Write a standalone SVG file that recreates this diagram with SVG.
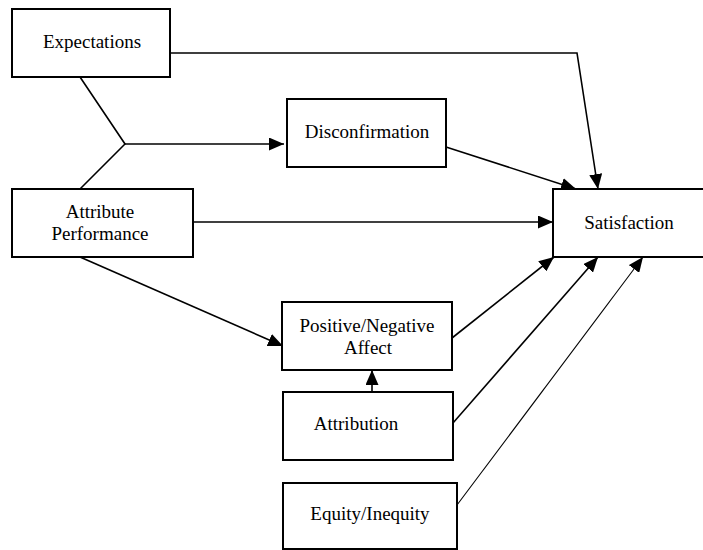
<svg xmlns="http://www.w3.org/2000/svg" width="703" height="550" viewBox="0 0 703 550">
<style>
.box{fill:#fff;stroke:#000;stroke-width:2}
.lbl{font-family:"Liberation Serif","Times New Roman",serif;font-size:19px;fill:#000;text-anchor:middle}
.ln{fill:none;stroke:#000;stroke-width:1.6}
.thin{fill:none;stroke:#000;stroke-width:1.1}
</style>
<defs>
<marker id="ah" markerUnits="userSpaceOnUse" markerWidth="15" markerHeight="13" refX="15" refY="6.5" orient="auto">
<path d="M0,0 L15,6.5 L0,13 z" fill="#000"/>
</marker>
</defs>
<rect x="0" y="0" width="703" height="550" fill="#fff"/>
<g id="connectors">
<polyline class="ln" points="170,53 577,53 598,189" marker-end="url(#ah)"/>
<polyline class="ln" points="80,77 125,144 80,189"/>
<line class="ln" x1="125" y1="144" x2="284" y2="144" marker-end="url(#ah)"/>
<line class="ln" x1="446" y1="147" x2="576" y2="189" marker-end="url(#ah)"/>
<line class="ln" x1="193" y1="222" x2="553" y2="222" marker-end="url(#ah)"/>
<line class="ln" x1="80" y1="257" x2="283" y2="346" marker-end="url(#ah)"/>
<line class="ln" x1="372" y1="392" x2="372" y2="370" marker-end="url(#ah)"/>
<line class="ln" x1="452" y1="338" x2="554" y2="257" marker-end="url(#ah)"/>
<line class="ln" x1="453" y1="423" x2="598" y2="257" marker-end="url(#ah)"/>
<line class="thin" x1="457" y1="505" x2="643" y2="257" marker-end="url(#ah)"/>
</g>
<g id="expectations">
<rect class="box" x="12" y="9" width="158" height="68"/>
<text class="lbl" x="92" y="48">Expectations</text>
</g>
<g id="disconfirmation">
<rect class="box" x="287" y="99" width="159" height="68"/>
<text class="lbl" x="367" y="138">Disconfirmation</text>
</g>
<g id="attribute-performance">
<rect class="box" x="12" y="189" width="181" height="68"/>
<text class="lbl" x="100" y="218">Attribute</text>
<text class="lbl" x="100" y="240">Performance</text>
</g>
<g id="satisfaction">
<rect class="box" x="553" y="189" width="160" height="68"/>
<text class="lbl" x="629" y="229">Satisfaction</text>
</g>
<g id="affect">
<rect class="box" x="282" y="302" width="170" height="68"/>
<text class="lbl" x="367" y="332">Positive/Negative</text>
<text class="lbl" x="368" y="354">Affect</text>
</g>
<g id="attribution">
<rect class="box" x="283" y="392" width="170" height="68"/>
<text class="lbl" x="356" y="430">Attribution</text>
</g>
<g id="equity">
<rect class="box" x="283" y="483" width="174" height="66"/>
<text class="lbl" x="370" y="520">Equity/Inequity</text>
</g>
</svg>
